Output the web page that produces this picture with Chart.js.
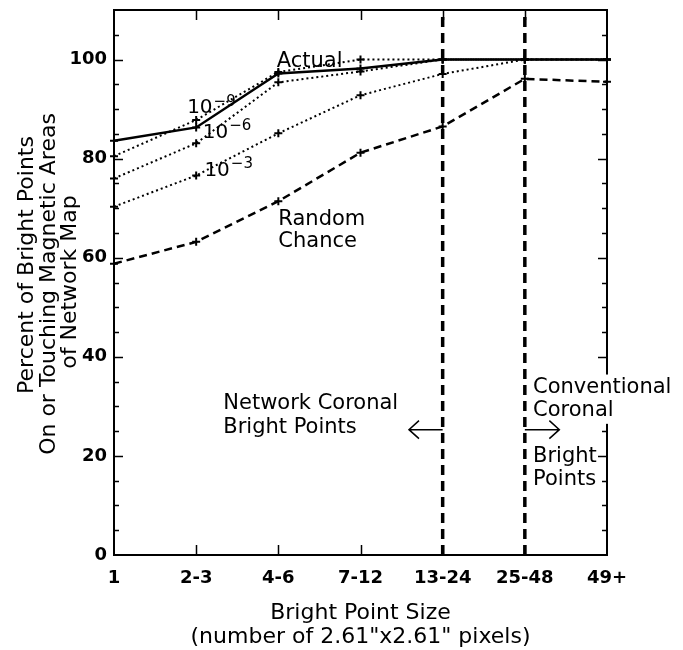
<!DOCTYPE html>
<html><head><meta charset="utf-8">
<script src="https://cdn.jsdelivr.net/npm/chart.js@4.4.1/dist/chart.umd.min.js"></script>
<style>html,body{margin:0;padding:0;background:#fff;}canvas{display:block;}</style>
</head><body>
<canvas id="c" width="683" height="650"></canvas>
<script>
// ---- data ----
const categories = ['1', '2-3', '4-6', '7-12', '13-24', '25-48', '49+'];
const actual = [83.6, 86.3, 97.2, 98.2, 100, 100, 100];
const conf1e9 = [80.5, 87.8, 97.5, 100, 100, 100, 100];
const conf1e6 = [76.0, 83.1, 95.4, 97.6, 100, 100, 100];
const conf1e3 = [70.3, 76.6, 85.1, 92.8, 97.1, 100, 100];
const randomChance = [58.8, 63.2, 71.4, 81.2, 86.5, 96.1, 95.5];
const boundaryCategories = ['13-24', '25-48'];
const yTickValues = [0, 20, 40, 60, 80, 100];
const yMin = 0, yMax = 110;

const FONT = '"DejaVu Sans", sans-serif';

function lineDs(values, dash, width) {
  return {
    data: values, borderColor: '#000', backgroundColor: '#000',
    borderWidth: width, borderDash: dash, tension: 0,
    pointStyle: 'cross', pointRadius: 4, pointBorderWidth: 2,
    pointBorderColor: '#000', fill: false
  };
}
function vLine(cat) {
  return {
    data: [{x: cat, y: yMin}, {x: cat, y: yMax}], borderColor: '#000',
    borderWidth: 3.5, borderDash: [10, 6], pointRadius: 0, fill: false
  };
}

// annotation placement (in data units: category index, percent)
const notes = [
  {t: 'Actual', x: 1.98, y: 99.6},
  {t: 'Random', x: 2.0, y: 67.7},
  {t: 'Chance', x: 2.0, y: 63.2},
  {t: 'Network Coronal', x: 1.33, y: 30.5},
  {t: 'Bright Points', x: 1.33, y: 25.7},
  {t: 'Conventional', x: 5.1, y: 33.8, bg: true},
  {t: 'Coronal', x: 5.1, y: 29.1, bg: true},
  {t: 'Bright', x: 5.1, y: 19.8},
  {t: 'Points', x: 5.1, y: 15.2}
];
const powers = [
  {e: '\u22129', x: 0.89, y: 90.2},
  {e: '\u22126', x: 1.08, y: 85.3},
  {e: '\u22123', x: 1.10, y: 77.6}
];

const framePlugin = {
  id: 'frame',
  afterDraw(chart) {
    const ctx = chart.ctx, a = chart.chartArea;
    const xs = chart.scales.x, ys = chart.scales.y;
    ctx.save();
    ctx.strokeStyle = '#000'; ctx.fillStyle = '#000';
    ctx.lineWidth = 2;
    ctx.strokeRect(a.left, a.top, a.right - a.left, a.bottom - a.top);
    ctx.lineWidth = 1.5;
    // y ticks every 5, majors at 20
    for (let v = 5; v < yMax; v += 5) {
      const py = Math.round(ys.getPixelForValue(v)) + 0.5;
      const len = (v % 20 === 0) ? 9 : 5;
      ctx.beginPath();
      ctx.moveTo(a.left, py); ctx.lineTo(a.left + len, py);
      ctx.moveTo(a.right, py); ctx.lineTo(a.right - len, py);
      ctx.stroke();
    }
    // x ticks
    for (let i = 1; i < categories.length - 1; i++) {
      const px = Math.round(xs.getPixelForValue(i)) + 0.5;
      ctx.beginPath();
      ctx.moveTo(px, a.bottom); ctx.lineTo(px, a.bottom - 10);
      ctx.moveTo(px, a.top); ctx.lineTo(px, a.top + 10);
      ctx.stroke();
    }
    // axis titles
    ctx.font = '22px ' + FONT;
    ctx.textAlign = 'center'; ctx.textBaseline = 'alphabetic';
    const cx = (a.left + a.right) / 2;
    ctx.fillText('Bright Point Size', cx, 619);
    ctx.fillText('(number of 2.61"x2.61" pixels)', cx, 643);
    const ylines = [
      ['Percent of Bright Points', 33, 265],
      ['On or Touching Magnetic Areas', 55, 284],
      ['of Network Map', 76, 282]
    ];
    ylines.forEach(([t, bx, cy]) => {
      ctx.save(); ctx.translate(bx, cy); ctx.rotate(-Math.PI / 2);
      ctx.fillText(t, 0, 0); ctx.restore();
    });
    // annotations
    ctx.font = '21px ' + FONT;
    ctx.textAlign = 'left'; ctx.textBaseline = 'middle';
    notes.forEach(n => {
      const px = xs.getPixelForValue(n.x), py = ys.getPixelForValue(n.y);
      if (n.bg) {
        ctx.fillStyle = '#fff';
        ctx.fillRect(px - 2, py - 13, ctx.measureText(n.t).width + 4, 26);
        ctx.fillStyle = '#000';
      }
      ctx.fillText(n.t, px, py);
    });
    powers.forEach(p => {
      const px = xs.getPixelForValue(p.x), py = ys.getPixelForValue(p.y);
      ctx.font = '20px ' + FONT;
      ctx.fillText('10', px, py);
      const w = ctx.measureText('10').width;
      ctx.font = '15px ' + FONT;
      ctx.fillText(p.e, px + w + 1, py - 6);
    });
    // arrows
    const ay = ys.getPixelForValue(25.3);
    function arrow(x0, x1) {
      const dir = Math.sign(x1 - x0);
      ctx.beginPath();
      ctx.moveTo(x0, ay); ctx.lineTo(x1, ay);
      ctx.moveTo(x1 - dir * 10, ay - 9); ctx.lineTo(x1, ay); ctx.lineTo(x1 - dir * 10, ay + 9);
      ctx.stroke();
    }
    ctx.lineWidth = 1.5;
    arrow(xs.getPixelForValue(4), xs.getPixelForValue(3.59));
    arrow(xs.getPixelForValue(5), xs.getPixelForValue(5.42));
    ctx.restore();
  }
};

new Chart(document.getElementById('c'), {
  type: 'line',
  data: {
    labels: categories,
    datasets: [
      lineDs(actual, [], 2.5),
      lineDs(conf1e9, [2, 3], 2),
      lineDs(conf1e6, [2, 3], 2),
      lineDs(conf1e3, [2, 3], 2),
      lineDs(randomChance, [8, 5], 2.5),
      vLine(boundaryCategories[0]),
      vLine(boundaryCategories[1])
    ]
  },
  options: {
    responsive: false, animation: false, devicePixelRatio: 1,
    layout: {padding: {left: 0, top: 10, right: 76, bottom: 0}},
    plugins: {legend: {display: false}, tooltip: {enabled: false}},
    scales: {
      x: {
        type: 'category', offset: false,
        grid: {display: false, drawTicks: false}, border: {display: false},
        ticks: {color: '#000', font: {family: FONT, size: 18, weight: 'bold'}, padding: 13, maxRotation: 0, autoSkip: false},
        afterFit(s) { s.height = 95; s.paddingLeft = 0; s.paddingRight = 0; }
      },
      y: {
        min: yMin, max: yMax,
        grid: {display: false, drawTicks: false}, border: {display: false},
        ticks: {color: '#000', font: {family: FONT, size: 18, weight: 'bold'}, padding: 7},
        afterBuildTicks(s) { s.ticks = yTickValues.map(v => ({value: v})); },
        afterFit(s) { s.width = 114; s.paddingTop = 0; s.paddingBottom = 0; }
      }
    }
  },
  plugins: [framePlugin]
});
</script>
</body></html>
